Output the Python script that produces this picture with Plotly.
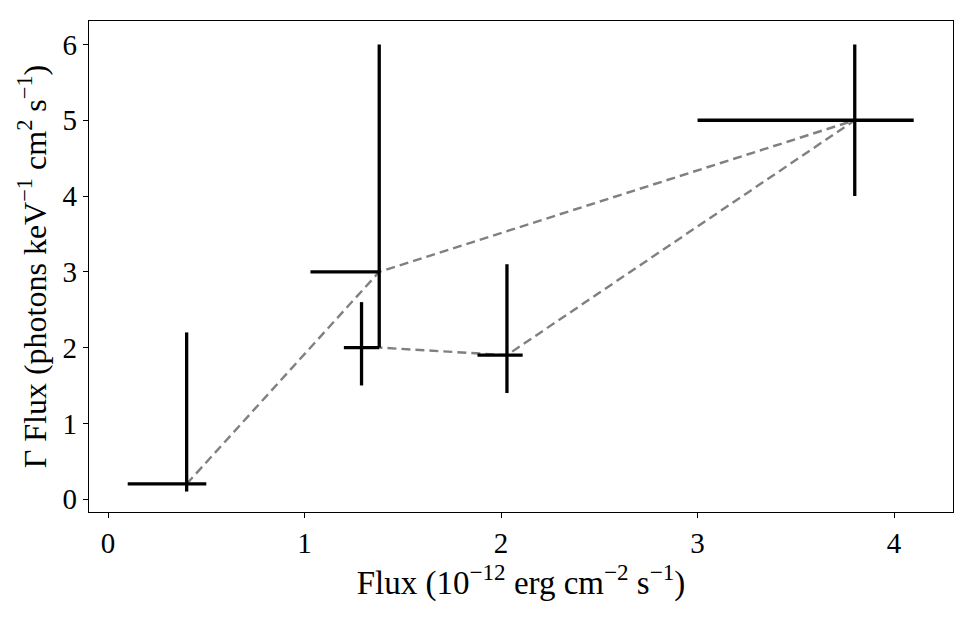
import plotly.graph_objects as go

# Error-bar points
x = [0.4, 1.29, 1.38, 2.03, 3.8]
y = [0.2, 2.0, 3.0, 1.9, 5.0]
x_minus = [0.3, 0.09, 0.35, 0.15, 0.8]
x_plus = [0.1, 0.09, 0.0, 0.08, 0.3]
y_minus = [0.1, 0.5, 1.0, 0.5, 1.0]
y_plus = [2.0, 0.6, 3.0, 1.2, 1.0]

# Dashed connecting line
line_x = [0.4, 1.38, 3.8, 2.03, 1.38]
line_y = [0.2, 3.0, 5.0, 1.9, 2.0]

FONT = "Liberation Serif"

fig = go.Figure()
fig.add_trace(go.Scatter(
    x=line_x, y=line_y, mode="lines",
    line=dict(color="#808080", width=2.4, dash="9px,5px"),
    hoverinfo="skip", showlegend=False,
))
fig.add_trace(go.Scatter(
    x=x, y=y, mode="markers",
    marker=dict(size=0.1, color="black"),
    error_x=dict(type="data", symmetric=False, array=x_plus, arrayminus=x_minus,
                 color="black", thickness=3.3, width=0),
    error_y=dict(type="data", symmetric=False, array=y_plus, arrayminus=y_minus,
                 color="black", thickness=3.3, width=0),
    showlegend=False,
))

axis_common = dict(
    showgrid=False, zeroline=False, showline=True, linecolor="black", linewidth=1.3,
    mirror=True, ticks="outside", ticklen=5, tickwidth=1.3, tickcolor="black",
    tickfont=dict(family=FONT, size=29, color="black"),
)

fig.update_layout(
    width=976, height=618,
    margin=dict(l=89, r=23, t=21, b=106),
    paper_bgcolor="white", plot_bgcolor="white",
    xaxis=dict(range=[-0.097, 4.30], tickvals=[0, 1, 2, 3, 4],
               title=dict(text="Flux (10<sup>−12</sup> erg cm<sup>−2</sup> s<sup>−1</sup>)",
                          font=dict(family=FONT, size=33, color="black"), standoff=4),
               **axis_common),
    yaxis=dict(range=[-0.17, 6.31], tickvals=[0, 1, 2, 3, 4, 5, 6],
               title=dict(text="Γ Flux (photons keV<sup>−1</sup> cm<sup>2</sup> s<sup>−1</sup>)",
                          font=dict(family=FONT, size=32, color="black"), standoff=6),
               **axis_common),
)

fig.write_html("out.html")
